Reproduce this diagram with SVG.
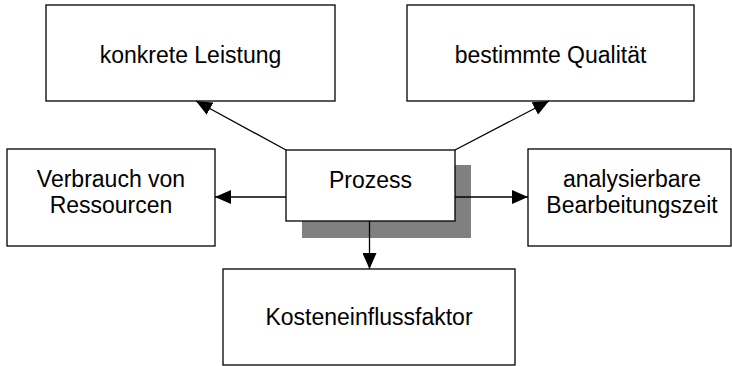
<svg xmlns="http://www.w3.org/2000/svg" width="732" height="366" viewBox="0 0 732 366">
<style>
.box{fill:#fff;stroke:#000;stroke-width:1.3}
.t{font-family:"Liberation Sans",Arial,sans-serif;font-size:23px;fill:#000;text-anchor:middle}
.c{stroke:#000;stroke-width:1.3;fill:none;marker-end:url(#ah)}
</style>
<defs>
<marker id="ah" viewBox="0 0 16 14" refX="16" refY="7" markerWidth="16" markerHeight="14" markerUnits="userSpaceOnUse" orient="auto">
<path d="M0,0 L16,7 L0,14 Z" fill="#000"/>
</marker>
</defs>
<rect width="732" height="366" fill="#fff"/>
<g id="konkrete">
<rect class="box" x="46" y="5" width="289" height="96"/>
<text class="t" x="190.5" y="63">konkrete Leistung</text>
</g>
<g id="qualitaet">
<rect class="box" x="407" y="5" width="287" height="96"/>
<text class="t" x="550.5" y="63">bestimmte Qualität</text>
</g>
<g id="verbrauch">
<rect class="box" x="7" y="149" width="208" height="97"/>
<text class="t" x="111" y="187">Verbrauch von</text>
<text class="t" x="111" y="213">Ressourcen</text>
</g>
<g id="analysierbare">
<rect class="box" x="528" y="149" width="203" height="97"/>
<text class="t" x="632" y="187">analysierbare</text>
<text class="t" x="632" y="213">Bearbeitungszeit</text>
</g>
<g id="kosten">
<rect class="box" x="223" y="269" width="292" height="96"/>
<text class="t" x="369" y="325">Kosteneinflussfaktor</text>
</g>
<g id="prozess">
<rect x="302" y="165" width="169" height="73" fill="#808080"/>
<rect class="box" x="286" y="150" width="169" height="71"/>
<text class="t" x="370.5" y="188">Prozess</text>
</g>
<g id="connectors">
<line class="c" x1="286" y1="150" x2="196" y2="101"/>
<line class="c" x1="455" y1="150" x2="549" y2="101"/>
<line class="c" x1="286" y1="197" x2="215" y2="197"/>
<line class="c" x1="455" y1="197" x2="528" y2="197"/>
<line class="c" x1="369.5" y1="221" x2="369.5" y2="269"/>
</g>
</svg>
